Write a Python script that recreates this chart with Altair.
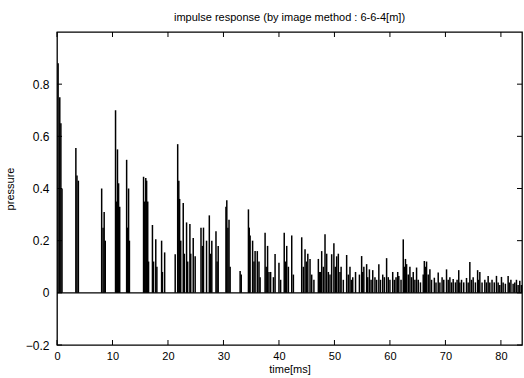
import altair as alt
import pandas as pd

# pulse arrival times [ms] and peak pressures
times = [0.2, 0.5, 0.7, 0.9,
         3.4, 3.6, 3.85,
         8.05, 8.3, 8.5, 8.7,
         10.55, 10.75, 10.9, 11.1, 11.3,
         12.55, 12.75, 12.9, 13.05,
         15.6, 15.8, 16.0, 16.15, 16.35, 16.5,
         17.2, 17.4, 17.8, 18.0, 18.85, 19.0, 19.4,
         21.3, 21.75, 21.95, 22.1, 22.3,
         22.75, 22.95, 23.35, 23.55, 23.95, 24.1, 24.55, 24.9,
         25.95, 26.2, 26.4, 26.95, 27.45, 27.7, 27.9, 28.65, 28.85, 29.05,
         30.45, 30.6, 30.8, 31.0, 31.2,
         33.0, 33.2,
         34.5, 34.65, 34.8, 35.25, 35.5, 35.7, 36.1, 36.4, 36.6,
         37.5, 37.7, 37.95, 38.2, 38.5, 39.0, 39.3, 40.0, 40.3,
         40.95, 41.2, 41.4, 41.7, 42.3, 42.6,
         44.1, 44.4, 44.7, 44.95, 45.2, 45.6, 45.9, 46.3,
         47.1, 47.3, 47.5, 47.7, 48.0, 48.3, 48.6, 48.9,
         49.2, 49.5, 49.9, 50.15, 50.4, 50.7, 51.0, 51.2, 51.6,
         52.2, 52.5, 52.8, 53.05, 53.3, 53.8,
         54.5, 54.9, 55.1, 55.3, 55.8, 56.0, 56.3, 56.6, 56.9, 57.3, 57.6,
         58.0, 58.3, 58.7, 59.0, 59.4, 59.7, 60.0, 60.5, 60.8, 61.1, 61.4,
         61.6, 62.0, 62.4, 62.6, 62.8, 63.0, 63.3, 63.6, 63.9, 64.2, 64.5,
         64.8, 65.1, 65.5,
         66.0, 66.2, 66.4, 66.6, 66.9, 67.2, 67.5, 68.0, 68.3, 68.7, 69.0,
         69.4, 69.7, 70.2, 70.5, 70.8, 71.1, 71.4, 71.8, 72.1, 72.4, 72.6,
         72.9, 73.3, 73.8, 74.1, 74.4, 74.7, 75.0, 75.4, 75.8, 76.0, 76.2,
         76.6, 77.1, 77.4, 77.7, 78.0, 78.4, 78.8, 79.2, 79.5, 79.8, 80.1,
         80.4, 80.8, 81.3, 81.5, 81.8, 82.2, 82.5, 82.8, 83.1, 83.4, 83.7]

pressures = [0.88, 0.75, 0.65, 0.40,
             0.555, 0.45, 0.43,
             0.40, 0.25, 0.31, 0.20,
             0.70, 0.35, 0.55, 0.42, 0.33,
             0.51, 0.25, 0.40, 0.20,
             0.445, 0.35, 0.44, 0.43, 0.35, 0.12,
             0.26, 0.12, 0.205, 0.10, 0.20, 0.08, 0.155,
             0.148, 0.57, 0.43, 0.36, 0.20,
             0.344, 0.15, 0.27, 0.12, 0.264, 0.15, 0.21, 0.14,
             0.25, 0.18, 0.25, 0.20, 0.297, 0.15, 0.20, 0.236, 0.12, 0.18,
             0.33, 0.355, 0.25, 0.28, 0.10,
             0.084, 0.07,
             0.32, 0.25, 0.22, 0.20, 0.12, 0.16, 0.16, 0.12, 0.06,
             0.23, 0.10, 0.18, 0.08, 0.08, 0.06, 0.149, 0.115, 0.05,
             0.23, 0.12, 0.18, 0.10, 0.22, 0.07,
             0.213, 0.10, 0.167, 0.12, 0.15, 0.13, 0.07, 0.05,
             0.13, 0.08, 0.08, 0.16, 0.10, 0.225, 0.15, 0.08,
             0.07, 0.148, 0.19, 0.10, 0.14, 0.15, 0.08, 0.10, 0.05,
             0.145, 0.07, 0.10, 0.05, 0.06, 0.08,
             0.07, 0.141, 0.08, 0.10, 0.11, 0.06, 0.09, 0.05, 0.087, 0.06, 0.05,
             0.11, 0.05, 0.07, 0.06, 0.133, 0.06, 0.05, 0.08, 0.05, 0.06, 0.08,
             0.065, 0.05, 0.205, 0.10, 0.13, 0.11, 0.07, 0.10, 0.06, 0.08, 0.05,
             0.097, 0.05, 0.04,
             0.07, 0.122, 0.10, 0.12, 0.07, 0.09, 0.05, 0.058, 0.04, 0.078, 0.04,
             0.06, 0.05, 0.09, 0.05, 0.06, 0.04, 0.053, 0.04, 0.05, 0.087, 0.04,
             0.05, 0.04, 0.057, 0.04, 0.118, 0.05, 0.06, 0.04, 0.087, 0.05, 0.08,
             0.04, 0.05, 0.04, 0.065, 0.04, 0.05, 0.04, 0.065, 0.04, 0.03, 0.061,
             0.04, 0.035, 0.065, 0.04, 0.05, 0.035, 0.04, 0.05, 0.03, 0.046, 0.03]

x_ticks = [0, 10, 20, 30, 40, 50, 60, 70, 80]
y_ticks = [-0.2, 0, 0.2, 0.4, 0.6, 0.8]

W, H = 465, 313
FONT = "Liberation Sans"

df = pd.DataFrame({"t": times, "p": pressures, "zero": [0.0] * len(times)})
xs = alt.Scale(domain=[0, 83.8], nice=False, zero=False)
ys = alt.Scale(domain=[-0.2, 1.0], nice=False, zero=False)

x_axis = alt.Axis(values=x_ticks, ticks=False, labelPadding=5, title="time[ms]",
                  titlePadding=2, grid=False, domain=False, labelFlush=False,
                  titleFontWeight="normal", labelFont=FONT, titleFont=FONT,
                  labelFontSize=11, titleFontSize=11, labelColor="black", titleColor="black")
y_axis = alt.Axis(values=y_ticks, ticks=False, labelPadding=8, title="pressure",
                  titlePadding=10, grid=False, domain=False, format=".1~f",
                  titleFontWeight="normal", labelFont=FONT, titleFont=FONT,
                  labelFontSize=12, titleFontSize=11, labelColor="black", titleColor="black")

pulses = alt.Chart(df).mark_rule(color="black", strokeWidth=1.5).encode(
    x=alt.X("t:Q", scale=xs, axis=x_axis),
    y=alt.Y("p:Q", scale=ys, axis=y_axis),
    y2="zero:Q",
)

baseline = alt.Chart(pd.DataFrame({"z": [0.0]})).mark_rule(
    color="black", strokeWidth=1.3).encode(y=alt.Y("z:Q", scale=ys))

xt = pd.DataFrame({"v": x_ticks})
yt = pd.DataFrame({"v": y_ticks})
tick_style = dict(color="black", strokeWidth=1)
bottom_ticks = alt.Chart(xt).mark_rule(**tick_style).encode(
    x=alt.X("v:Q", scale=xs), y=alt.value(H - 5), y2=alt.value(H))
top_ticks = alt.Chart(xt).mark_rule(**tick_style).encode(
    x=alt.X("v:Q", scale=xs), y=alt.value(0), y2=alt.value(5))
left_ticks = alt.Chart(yt).mark_rule(**tick_style).encode(
    y=alt.Y("v:Q", scale=ys), x=alt.value(0), x2=alt.value(5))
right_ticks = alt.Chart(yt).mark_rule(**tick_style).encode(
    y=alt.Y("v:Q", scale=ys), x=alt.value(W - 5), x2=alt.value(W))

chart = alt.layer(baseline, pulses, bottom_ticks, top_ticks, left_ticks, right_ticks).properties(
    width=W, height=H,
    background="white",
    title=alt.TitleParams("impulse response (by image method : 6-6-4[m])",
                          fontSize=11, font=FONT, fontWeight="normal", offset=9, color="black"),
    autosize=alt.AutoSizeParams(type="none"),
    padding={"left": 57, "top": 32, "right": 2, "bottom": 33},
).configure_view(stroke="black", strokeWidth=1.3)

chart.save("out.html", embed_options={"renderer": "svg", "actions": False})
